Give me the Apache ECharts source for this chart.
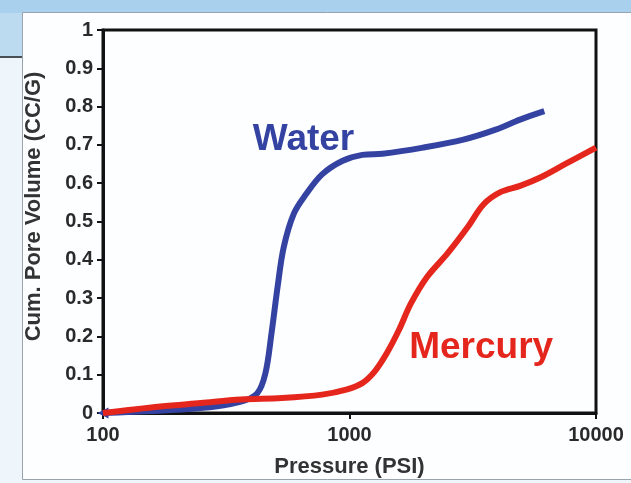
<!DOCTYPE html>
<html>
<head>
<meta charset="utf-8">
<script src="https://cdn.jsdelivr.net/npm/echarts@6/dist/echarts.min.js"></script>
<style>
html,body{margin:0;padding:0;background:#eef5fb;}
#chart{width:631px;height:483px;}
</style>
</head>
<body>
<div id="chart"></div>
<script>
// Pressure (PSI) values and cumulative pore volume (CC/G)
const waterPressure = [100, 249, 363, 423, 456, 483, 511, 541, 594, 666, 774, 934, 1127, 1361, 1986, 2897, 3918, 4918, 6170];
const waterVolume   = [0, 0.013, 0.03, 0.052, 0.104, 0.21, 0.33, 0.433, 0.52, 0.571, 0.623, 0.658, 0.674, 0.677, 0.693, 0.714, 0.74, 0.766, 0.788];

const mercuryPressure = [100, 171, 249, 363, 531, 774, 970, 1127, 1264, 1416, 1585, 1775, 2063, 2493, 3013, 3501, 4073, 4918, 5940, 7452, 10000];
const mercuryVolume   = [0, 0.017, 0.026, 0.035, 0.039, 0.048, 0.061, 0.078, 0.108, 0.156, 0.216, 0.286, 0.355, 0.416, 0.485, 0.545, 0.576, 0.593, 0.615, 0.649, 0.693];

const xTicks = [100, 1000, 10000];
const yTicks = [0, 0.1, 0.2, 0.3, 0.4, 0.5, 0.6, 0.7, 0.8, 0.9, 1];

const seriesNames = ['Water', 'Mercury'];
const labelAnchors = { Water: [651, 0.713], Mercury: [3420, 0.17] };

const FONT = '"Liberation Sans", Arial, sans-serif';
const BLUE = '#3443a2';
const RED = '#e5261c';

function pairs(xs, ys) { return xs.map((x, i) => [x, ys[i]]); }

const waterData = pairs(waterPressure, waterVolume).map((p, i) =>
  i === 0 ? { value: p, symbol: 'triangle', symbolSize: 11, symbolRotate: 90 } : p);

const chart = echarts.init(document.getElementById('chart'), null, { renderer: 'canvas' });
chart.setOption({
  backgroundColor: '#eef5fb',
  animation: false,
  graphic: [
    { type: 'rect', shape: { x: 0, y: 0, width: 631, height: 13 }, style: { fill: '#a9d0ec' }, z: -10 },
    { type: 'rect', shape: { x: 0, y: 13, width: 23, height: 44 }, style: { fill: '#bcdaf0' }, z: -10 },
    { type: 'rect', shape: { x: 0, y: 56, width: 23, height: 2 }, style: { fill: '#4a4f55' }, z: -10 },
    { type: 'rect', shape: { x: 22.5, y: 12.5, width: 620, height: 467 }, style: { fill: '#fdfeff', stroke: '#9aa3ab', lineWidth: 1 }, z: -9 }
  ],
  grid: { left: 103, right: 35, top: 30, bottom: 70, show: true, borderColor: '#111', borderWidth: 3, backgroundColor: 'transparent' },
  xAxis: {
    type: 'log', logBase: 10, min: xTicks[0], max: xTicks[xTicks.length - 1],
    name: 'Pressure (PSI)', nameLocation: 'middle', nameGap: 43,
    nameTextStyle: { fontFamily: FONT, fontWeight: 'bold', fontSize: 22, color: '#333' },
    axisLine: { show: true, lineStyle: { color: '#111', width: 3 } },
    axisTick: { show: true, length: 6, lineStyle: { color: '#111', width: 2 } },
    axisLabel: { fontFamily: FONT, fontWeight: 'bold', fontSize: 20, color: '#2a2a2a', margin: 12,
      formatter: v => String(Math.round(v)) },
    minorTick: { show: false },
    splitLine: { show: false }
  },
  yAxis: {
    type: 'value', min: yTicks[0], max: yTicks[yTicks.length - 1], interval: 0.1,
    name: 'Cum. Pore Volume (CC/G)', nameLocation: 'middle', nameGap: 58, nameRotate: 90,
    nameTextStyle: { fontFamily: FONT, fontWeight: 'bold', fontSize: 22, color: '#333', padding: [0, 0, 0, 30] },
    axisLine: { show: true, lineStyle: { color: '#111', width: 3 } },
    axisTick: { show: true, length: 6, lineStyle: { color: '#111', width: 2 } },
    axisLabel: { fontFamily: FONT, fontWeight: 'bold', fontSize: 20, color: '#2a2a2a', margin: 10,
      formatter: v => String(Math.round(v * 10) / 10) },
    splitLine: { show: false }
  },
  series: [
    {
      name: seriesNames[0], type: 'line', data: waterData, smooth: 0.35, symbol: 'none',
      itemStyle: { color: BLUE },
      lineStyle: { color: BLUE, width: 6 }, z: 3,
      markPoint: {
        symbol: 'circle', symbolSize: 0,
        label: { show: true, position: 'inside', formatter: seriesNames[0], fontFamily: FONT, fontWeight: 'bold', fontSize: 37, color: BLUE },
        data: [{ coord: labelAnchors.Water }]
      }
    },
    {
      name: seriesNames[1], type: 'line', data: pairs(mercuryPressure, mercuryVolume), smooth: 0.35, symbol: 'none',
      lineStyle: { color: RED, width: 6 }, z: 4,
      markPoint: {
        symbol: 'circle', symbolSize: 0,
        label: { show: true, position: 'inside', formatter: seriesNames[1], fontFamily: FONT, fontWeight: 'bold', fontSize: 37, color: RED },
        data: [{ coord: labelAnchors.Mercury }]
      }
    }
  ]
});
</script>
</body>
</html>
